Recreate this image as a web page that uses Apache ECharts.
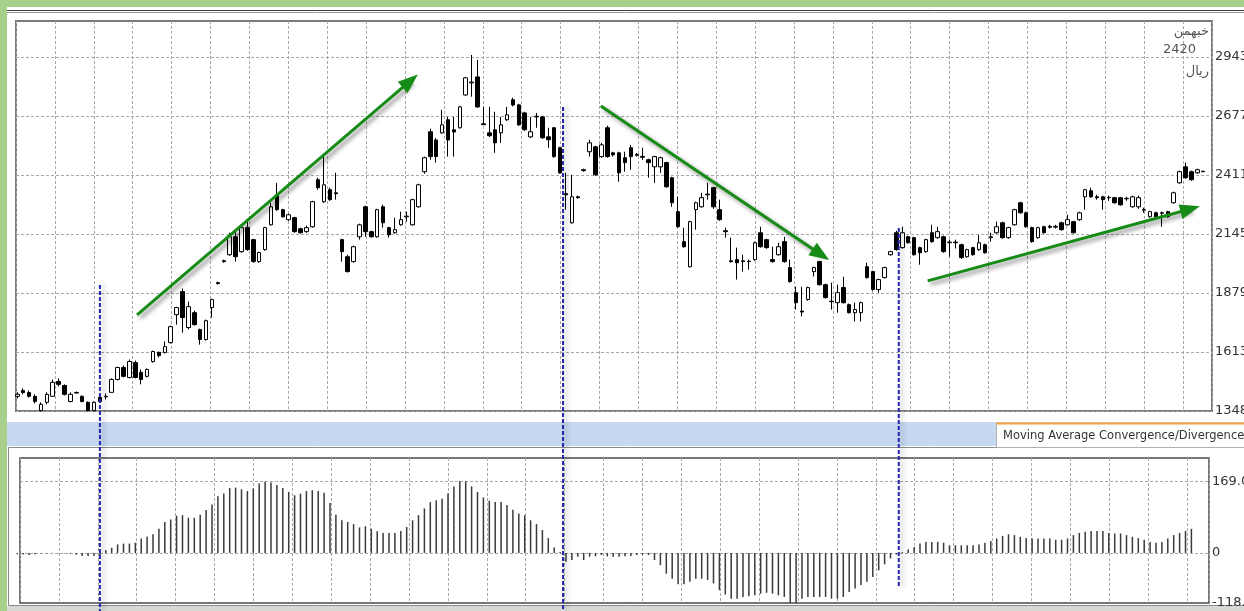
<!DOCTYPE html>
<html><head><meta charset="utf-8">
<script src="https://cdn.jsdelivr.net/npm/echarts@6/dist/echarts.min.js"></script>
<style>html,body{margin:0;padding:0;background:#fff;overflow:hidden}#c{width:1244px;height:611px}</style>
</head><body><div id="c"></div>
<script>
// ---- price candles (daily), index 0..201 ----
const opens = [1414,1440,1431,1414,1350,1387,1414,1481,1463,1391, 1431,1414,1387,1350,1409,1414,1432,1490,1544,1499,
 1566,1522,1504,1571,1612,1612,1656,1782,1886,1724, 1791,1715,1670,1814,1926,2025,2052,2133,2066,2174,
 2120,2021,2075,2187,2322,2255,2210,2219,2169,2156, 2178,2390,2291,2345,2331,2120,2043,2021,2133,2268,
 2156,2133,2268,2174,2151,2187,2223,2187,2268,2426, 2606,2569,2601,2660,2615,2624,2772,2826,2853,2642,
 2601,2615,2601,2660,2750,2727,2691,2583,2673,2673, 2583,2624,2534,2327,2196,2313,2435,2516,2538,2494,
 2624,2511,2511,2489,2534,2504,2495,2480,2448,2448, 2467,2399,2246,2111,1998,2255,2268,2322,2354,2255,
 2160,2025,2030,2021,2023,2030,2151,2120,2030,2052, 2111,1994,1881,1798,1850,1976,2021,1917,1843,1836,
 1904,1827,1791,1791,1998,1976,1895,1949,2052,2151, 2084,2133,2129,2084,2066,2151,2129,2133,2106,2109,
 2097,2043,2084,2075,2097,2129,2151,2196,2129,2187, 2286,2241,2174,2129,2178,2180,2176,2196,2187,2201,
 2210,2313,2340,2313,2313,2309,2309,2309,2304,2268, 2268,2255,2223,2241,2241,2246,2286,2376,2448,2426,
 2421,2428];
const closes = [1423,1431,1414,1391,1378,1423,1477,1468,1423,1423, 1429,1391,1350,1387,1391,1412,1490,1544,1504,1571,
 1499,1490,1535,1616,1598,1638,1728,1814,1769,1818, 1737,1670,1755,1850,1922,2021,2133,2043,2174,2075,
 2021,2062,2174,2268,2255,2223,2232,2156,2151,2174, 2291,2354,2367,2300,2327,2066,1976,2088,2187,2156,
 2133,2255,2196,2142,2165,2210,2226,2300,2367,2489, 2494,2494,2637,2569,2605,2718,2849,2830,2718,2638,
 2588,2556,2637,2682,2727,2637,2615,2606,2676,2579, 2570,2494,2421,2322,2313,2309,2431,2556,2412,2547,
 2494,2502,2421,2467,2494,2500,2491,2467,2494,2489, 2358,2286,2178,2088,2201,2286,2309,2325,2268,2210,
 2156,2021,2016,2025,2021,2106,2088,2084,2021,2088, 2021,1931,1836,1794,1904,1994,1917,1859,1841,1881,
 1836,1791,1805,1836,1949,1895,1940,1994,2066,2075, 2151,2106,2052,2061,2120,2111,2156,2066,2109,2106,
 2039,2075,2052,2106,2061,2133,2178,2129,2174,2255, 2241,2178,2111,2174,2151,2176,2180,2165,2210,2151,
 2241,2345,2313,2309,2300,2311,2286,2277,2306,2313, 2309,2253,2246,2223,2239,2223,2331,2426,2399,2390,
 2435,2426];
const lows = [1405,1423,1409,1382,1346,1378,1414,1459,1418,1387, 1427,1387,1346,1346,1387,1400,1432,1486,1499,1495,
 1495,1468,1499,1566,1589,1607,1652,1737,1701,1715, 1733,1647,1665,1769,1918,2016,2047,2021,2061,2070,
 2016,2016,2070,2183,2250,2219,2205,2151,2147,2151, 2174,2345,2286,2295,2300,2021,1972,2016,2120,2133,
 2129,2129,2174,2129,2147,2183,2201,2183,2264,2417, 2480,2467,2597,2494,2494,2620,2768,2764,2714,2637,
 2583,2511,2556,2655,2720,2633,2610,2578,2624,2574, 2534,2489,2417,2255,2192,2304,2426,2494,2408,2489,
 2489,2494,2381,2426,2435,2494,2480,2399,2376,2421, 2354,2268,2174,2084,1994,2165,2264,2300,2259,2205,
 2129,2016,1940,1976,1985,2025,2084,2079,2016,2048, 2016,1926,1805,1774,1845,1954,1913,1854,1805,1791,
 1832,1787,1751,1751,1945,1890,1881,1945,2048,2070, 2079,2102,2048,2007,2061,2106,2124,2061,2043,2080,
 2034,2039,2048,2070,2057,2111,2147,2124,2124,2183, 2237,2174,2106,2124,2147,2170,2170,2160,2183,2147,
 2205,2255,2309,2300,2255,2295,2282,2273,2295,2264, 2259,2241,2219,2219,2178,2219,2282,2372,2394,2385,
 2417,2424];
const highs = [1432,1450,1440,1423,1387,1432,1490,1495,1468,1432, 1436,1418,1391,1391,1414,1427,1495,1548,1553,1580,
 1575,1535,1540,1620,1616,1661,1733,1818,1900,1841, 1800,1719,1760,1854,1931,2030,2151,2165,2178,2201,
 2124,2066,2178,2286,2376,2259,2237,2223,2174,2183, 2295,2399,2502,2354,2421,2124,2052,2093,2192,2273,
 2160,2259,2277,2178,2219,2246,2246,2304,2372,2494, 2620,2578,2705,2673,2673,2723,2853,2952,2930,2718,
 2718,2696,2673,2718,2759,2732,2696,2673,2691,2678, 2624,2628,2538,2421,2412,2318,2440,2570,2543,2556,
 2633,2516,2516,2516,2547,2510,2534,2485,2498,2494, 2471,2403,2313,2174,2205,2291,2331,2376,2358,2300,
 2174,2129,2084,2052,2030,2111,2178,2124,2088,2106, 2133,2030,1908,1908,1908,1998,2025,1922,1926,1917,
 1953,1832,1836,1841,2016,1980,1944,1998,2070,2160, 2178,2138,2133,2088,2124,2187,2178,2138,2120,2120,
 2102,2079,2088,2142,2102,2151,2201,2201,2178,2259, 2291,2246,2178,2178,2183,2187,2187,2201,2232,2205,
 2246,2349,2354,2322,2318,2318,2313,2313,2313,2318, 2318,2264,2250,2246,2246,2250,2336,2431,2467,2431,
 2440,2430];
// ---- MACD histogram, same index ----
const macd = [-3,-4,-5,-3,-1,-1,-0.5,-1,-1,-2, -4,-7,-7,-7,-6,6,12,20,22,22,
 24,34,38,44,57,73,79,88,89,83, 83,90,101,114,134,140,153,154,150,146,
 152,164,168,166,160,153,144,136,140,146, 148,146,142,118,90,77,73,68,60,63,
 57,51,47,47,47,52,61,77,89,105, 120,124,128,140,157,169,169,157,144,131,
 123,120,120,113,102,93,89,77,68,54, 35,13,2,-21,-17,-9,-17,-9,-8,-5,
 -8,-9,-9,-8,-7,-5,-4,-5,-17,-29, -49,-61,-74,-74,-68,-61,-61,-64,-72,-88,
 -98,-108,-108,-104,-102,-100,-96,-94,-96,-100, -104,-118,-118,-108,-104,-104,-104,-104,-108,-108,
 -104,-92,-84,-76,-68,-57,-41,-27,-13,-4, 2,8,14,22,26,26,26,24,18,18,
 18,18,18,20,24,28,34,40,44,42, 38,35,34,34,34,34,31,31,34,42,
 47,50,52,52,52,47,46,46,42,38, 35,31,26,24,26,34,42,47,52,57,
 null,null];
// ---- axis ticks ----
const priceTicks = [1348, 1613.83, 1879.67, 2145.5, 2411.33, 2677.17, 2943];
const macdGridTicks = [0, 169.07];
const macdLabelTicks = [-118.21, 0, 169.07];
// ---- annotations (candle index, price) ----
const trendArrows = [
  [[20.3, 1781], [66.6, 2835]],
  [[98.9, 2722], [136.2, 2053]],
  [[154.3, 1934], [198.8, 2258]]
];
const markerLines = [ {idx: 14, topPrice: 1916, bottomMacd: null},
                      {idx: 92.5, topPrice: 2718, bottomMacd: null},
                      {idx: 149.4, topPrice: 2173, bottomMacd: -80} ];
const symbolText = ['خبهمن', '2420', 'ریال'];
const macdTitle = 'Moving Average Convergence/Divergence';

// axis calibration
const STEP = 5.9;              // px per candle
const X0_TOP = 0.22, X0_BOT = -0.458;
const GRID_IV = 38.9 / STEP;

const chart = echarts.init(document.getElementById('c'), null, {renderer:'canvas'});
const FONT = 'DejaVu Sans';
const gridLine = {show:true, lineStyle:{color:'#a8a8a8', width:1, type:[3,2]}};

const candleData = opens.map((o,i)=>[i+X0_TOP, o, closes[i], lows[i], highs[i]]);
const macdData = macd.map((v,i)=>[i+X0_BOT, v]).filter(d=>d[1]!==null);

const option = {
  animation:false,
  backgroundColor:'#ffffff',
  grid:[
    {left:16, top:21, width:1196, height:390, show:true, borderColor:'#7a7a7a', borderWidth:2, backgroundColor:'#fff', containLabel:false, outerBoundsMode:'none'},
    {left:20, top:458, width:1189, height:145, show:true, borderColor:'#4a4a4a', borderWidth:1.5, backgroundColor:'#fff', containLabel:false, outerBoundsMode:'none'}
  ],
  xAxis:[
    {type:'value', gridIndex:0, min:0, max:1196/STEP, interval:GRID_IV,
     axisLine:{show:false}, axisTick:{show:false}, axisLabel:{show:false}, splitLine:gridLine},
    {type:'value', gridIndex:1, min:0, max:1189/STEP, interval:GRID_IV,
     axisLine:{show:false}, axisTick:{show:false}, axisLabel:{show:false}, splitLine:gridLine}
  ],
  yAxis:[
    {type:'value', gridIndex:0, position:'right', min:1348, max:3105,
     axisLine:{show:false}, axisTick:{show:false, customValues:priceTicks},
     axisLabel:{customValues:priceTicks, formatter:v=>String(Math.floor(v)), color:'#333', fontFamily:FONT, fontSize:13, margin:3},
     splitLine:gridLine},
    {type:'value', gridIndex:1, position:'right', min:-118.21, max:224,
     axisLine:{show:false}, axisTick:{show:false, customValues:macdGridTicks},
     axisLabel:{customValues:macdLabelTicks, formatter:v=> v===0 ? '0' : v.toFixed(2), color:'#333', fontFamily:FONT, fontSize:13, margin:3},
     splitLine:gridLine}
  ],
  series:[
    {type:'candlestick', xAxisIndex:0, yAxisIndex:0, barWidth:4, data:candleData,
     itemStyle:{color:'#ffffff', color0:'#000000', borderColor:'#000000', borderColor0:'#000000', borderWidth:1},
     markLine:{silent:true, symbol:['none','triangle'], symbolSize:[15,20], animation:false,
       label:{show:false},
       lineStyle:{color:'#168c16', width:3, type:'solid', shadowColor:'rgba(0,0,0,0.45)', shadowBlur:4, shadowOffsetX:3, shadowOffsetY:3},
       data: trendArrows.map(a=>[{coord:[a[0][0]+X0_TOP, a[0][1]]},{coord:[a[1][0]+X0_TOP, a[1][1]]}])}
    },
    {type:'bar', xAxisIndex:1, yAxisIndex:1, barWidth:1.5, data:macdData,
     itemStyle:{color:'#3a3a3a'}}
  ]
};
chart.setOption(option);

const W = 1244, H = 611;
const green = '#a8d08d';
const g = [
  {type:'rect', shape:{x:0,y:0,width:W,height:7}, style:{fill:green}, silent:true},
  {type:'rect', shape:{x:0,y:0,width:7,height:H}, style:{fill:green}, silent:true},
  {type:'rect', shape:{x:7,y:606,width:W,height:5}, style:{fill:'#d6dad3'}, silent:true},
  {type:'line', shape:{x1:7,y1:10.5,x2:W,y2:10.5}, style:{stroke:'#404040',lineWidth:1}, silent:true},
  {type:'line', shape:{x1:7,y1:12.5,x2:W,y2:12.5}, style:{stroke:'#9a9a9a',lineWidth:1}, silent:true},
  {type:'rect', shape:{x:7,y:422,width:W,height:24}, style:{fill:'#c6d9f1'}, silent:true},
  {type:'rect', shape:{x:8.5,y:447.5,width:W,height:158}, style:{fill:'none',stroke:'#8a8a8a',lineWidth:1}, silent:true},
  {type:'rect', shape:{x:996.5,y:423.5,width:260,height:24}, style:{fill:'#ffffff',stroke:'#b0b0b0',lineWidth:1}, silent:true},
  {type:'line', shape:{x1:996,y1:423.5,x2:W,y2:423.5}, style:{stroke:'#f2a23a',lineWidth:2}, silent:true},
  {type:'text', x:1003, y:436, silent:true, style:{text:macdTitle, font:'11.5px "DejaVu Sans"', fill:'#333', align:'left', verticalAlign:'middle', textAlign:'left', textVerticalAlign:'middle'}},
  {type:'text', x:1209, y:32, silent:true, style:{text:symbolText[0], font:'13px "DejaVu Sans"', fill:'#555', align:'right', verticalAlign:'middle', textAlign:'right', textVerticalAlign:'middle'}},
  {type:'text', x:1196, y:50, silent:true, style:{text:symbolText[1], font:'13px "DejaVu Sans"', fill:'#555', align:'right', verticalAlign:'middle', textAlign:'right', textVerticalAlign:'middle'}},
  {type:'text', x:1209, y:72, silent:true, style:{text:symbolText[2], font:'13px "DejaVu Sans"', fill:'#555', align:'right', verticalAlign:'middle', textAlign:'right', textVerticalAlign:'middle'}}
];
markerLines.forEach(m=>{
  const top = chart.convertToPixel({xAxisIndex:0, yAxisIndex:0}, [m.idx+X0_TOP, m.topPrice]);
  let yb = H;
  if (m.bottomMacd !== null) yb = chart.convertToPixel({xAxisIndex:1, yAxisIndex:1}, [m.idx+X0_BOT, m.bottomMacd])[1];
  g.push({type:'line', z:100, silent:true, shape:{x1:top[0], y1:top[1], x2:top[0], y2:yb},
    style:{stroke:'#2323b5', lineWidth:2, lineDash:[4,2], shadowColor:'rgba(0,0,0,0.35)', shadowBlur:5, shadowOffsetX:3}});
});
chart.setOption({graphic:g});
</script></body></html>
